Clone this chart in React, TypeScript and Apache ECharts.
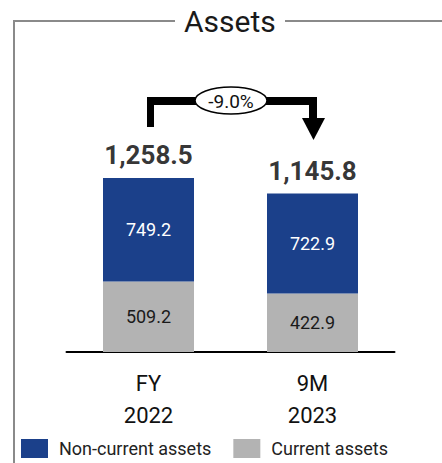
import React, { useEffect, useRef } from "react";
import * as echarts from "echarts";

const categories = ["FY\n2022", "9M\n2023"];
const nonCurrent = [749.2, 722.9];
const current = [509.2, 422.9];
const totals = [1258.5, 1145.8];
const seriesNames = ["Non-current assets", "Current assets"];
const titleText = "Assets";

const BLUE = "#1b408a";
const GREY = "#b3b3b3";
const FONT = "Roboto";

export default function App() {
  const ref = useRef<HTMLDivElement>(null);
  useEffect(() => {
    if (!ref.current) return;
    const chart = echarts.init(ref.current, undefined, { renderer: "svg" });
    const change = ((totals[1] - totals[0]) / totals[0]) * 100;
    const changeText = (change > 0 ? "+" : "") + change.toFixed(1) + "%";
    const fmt = (v: number) =>
      v.toLocaleString("en-US", { minimumFractionDigits: 1, maximumFractionDigits: 1 });
    chart.setOption({
      animation: false,
      textStyle: { fontFamily: FONT },
      title: {
        text: titleText,
        left: 179,
        top: 1,
        textStyle: { fontFamily: FONT, fontSize: 30, fontWeight: "normal", color: "#1a1a1a" },
      },
      legend: {
        data: seriesNames,
        left: 16,
        top: 434,
        itemWidth: 27,
        itemHeight: 19,
        itemGap: 22,
        icon: "rect",
        textStyle: { fontFamily: FONT, fontSize: 18, color: "#222", padding: [0, 0, 0, 6] },
      },
      grid: { left: 66.5, width: 328, top: 144.6, height: 207.4 },
      xAxis: {
        type: "category",
        data: categories,
        axisLine: { lineStyle: { color: "#000", width: 2 } },
        axisTick: { show: false },
        axisLabel: {
          fontFamily: FONT,
          fontSize: 22,
          lineHeight: 32,
          color: "#111",
          margin: 15,
        },
      },
      yAxis: {
        type: "value",
        min: 0,
        max: 1500,
        show: false,
        splitLine: { show: false },
      },
      series: [
        {
          name: seriesNames[1],
          type: "bar",
          stack: "a",
          barWidth: 91,
          data: current,
          itemStyle: { color: GREY },
          label: {
            show: true,
            position: "inside",
            fontFamily: FONT,
            fontSize: 18,
            color: "#1a1a1a",
            formatter: (p: any) => fmt(p.value),
          },
        },
        {
          name: seriesNames[0],
          type: "bar",
          stack: "a",
          barWidth: 91,
          data: nonCurrent,
          itemStyle: { color: BLUE },
          label: {
            show: true,
            position: "inside",
            fontFamily: FONT,
            fontSize: 18,
            color: "#fff",
            formatter: (p: any) => fmt(p.value),
          },
        },
        {
          name: "Total",
          type: "scatter",
          data: totals,
          symbolSize: 0,
          label: {
            show: true,
            position: "top",
            distance: 10,
            fontFamily: FONT,
            fontSize: 26,
            fontWeight: "bold",
            color: "#000",
            formatter: (p: any) => fmt(p.value),
          },
        },
      ],
      graphic: [
        { type: "line", shape: { x1: 14, y1: 21, x2: 14, y2: 463 }, style: { stroke: "#8a8a8a", lineWidth: 2 } },
        { type: "line", shape: { x1: 13, y1: 21, x2: 175, y2: 21 }, style: { stroke: "#8a8a8a", lineWidth: 2 } },
        { type: "line", shape: { x1: 285, y1: 21, x2: 442, y2: 21 }, style: { stroke: "#8a8a8a", lineWidth: 2 } },
        { type: "rect", shape: { x: 147, y: 97, width: 7, height: 30 }, style: { fill: "#000" } },
        { type: "rect", shape: { x: 147, y: 97, width: 170, height: 8 }, style: { fill: "#000" } },
        { type: "rect", shape: { x: 309, y: 97, width: 8, height: 23 }, style: { fill: "#000" } },
        { type: "polygon", shape: { points: [[302, 118], [325, 118], [313.5, 140]] }, style: { fill: "#000" } },
        {
          type: "ellipse",
          shape: { cx: 231, cy: 100.5, rx: 36, ry: 13.5 },
          style: { fill: "#fff", stroke: "#000", lineWidth: 1.5 },
          z: 10,
        },
        {
          type: "text",
          x: 231,
          y: 101,
          z: 11,
          style: {
            text: changeText,
            fontFamily: FONT,
            fontSize: 19,
            fill: "#111",
            align: "center",
            verticalAlign: "middle",
          },
        },
      ],
    });
    return () => chart.dispose();
  }, []);
  return (
    <div
      ref={ref}
      style={{ position: "fixed", left: 0, top: 0, width: 442, height: 463, background: "#fff" }}
    />
  );
}
